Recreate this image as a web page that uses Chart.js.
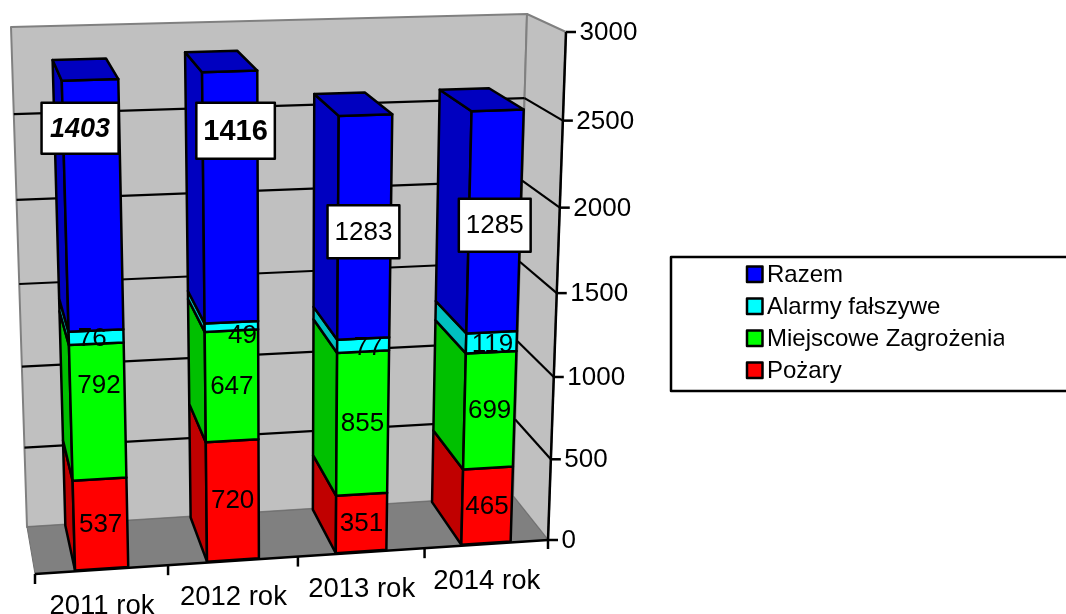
<!DOCTYPE html>
<html>
<head>
<meta charset="utf-8">
<title>Wyjazdy</title>
<script src="https://cdn.jsdelivr.net/npm/chart.js@4/dist/chart.umd.js"></script>
<style>
  html, body { margin: 0; padding: 0; background: #fff; overflow: hidden; }
  canvas { display: block; }
</style>
</head>
<body>
<canvas id="chart" width="1066" height="614"></canvas>
<script>
const categories = ['2011 rok', '2012 rok', '2013 rok', '2014 rok'];
const pozary = [537, 720, 351, 465];
const miejscowe = [792, 647, 855, 699];
const alarmy = [76, 49, 77, 119];
const razem = [1403, 1416, 1283, 1285];
const valueTicks = [0, 500, 1000, 1500, 2000, 2500, 3000];

// Corners of the 3D box on the page, the chart scales are projected into it
const box = {
  frontBottomLeft: [35, 574], frontBottomRight: [548, 540],
  frontTopLeft: [18, 47], frontTopRight: [566, 32],
  backBottomLeft: [27, 527], backBottomRight: [513, 496],
  backTopLeft: [11, 27], backTopRight: [527, 14]
};
const barFront = 0.02;
const barBack = 0.98;

const FONT = '"Liberation Sans", Arial, sans-serif';
const sideColors = ['#c00000', '#00c000', '#00c0c0', '#0000c0'];

// Labels that were dragged by hand in the original, 'dataset:index': [dx, dy]
const labelNudge = {
  '1:0': [1, -27], '2:0': [-4, 1], '2:1': [11, 8], '2:2': [5, 2], '2:3': [1, 2],
  '3:0': [-13, -77], '3:1': [5, -66], '3:2': [-1, 5], '3:3': [0, 4]
};

function lerp(a, b, t) {
  return [a[0] + (b[0] - a[0]) * t, a[1] + (b[1] - a[1]) * t];
}

/**
 * u along the categories, v up the values, w into the depth, all 0..1
 */
function project(u, v, w) {
  const pu = u + 0.05 * u * (1 - u);
  const pv = v - 0.056 * v * (1 - v);
  const front = lerp(
    lerp(box.frontBottomLeft, box.frontBottomRight, pu),
    lerp(box.frontTopLeft, box.frontTopRight, pu), pv);
  const back = lerp(
    lerp(box.backBottomLeft, box.backBottomRight, pu),
    lerp(box.backTopLeft, box.backTopRight, pu), pv);
  return lerp(front, back, w);
}

function fillPoly(ctx, points, fill, stroke, lineWidth) {
  ctx.beginPath();
  points.forEach((p, i) => i ? ctx.lineTo(p[0], p[1]) : ctx.moveTo(p[0], p[1]));
  ctx.closePath();
  if (fill) {
    ctx.fillStyle = fill;
    ctx.fill();
  }
  if (stroke) {
    ctx.strokeStyle = stroke;
    ctx.lineWidth = lineWidth;
    ctx.lineJoin = 'round';
    ctx.stroke();
  }
}

function drawLine(ctx, a, b, color, lineWidth) {
  ctx.beginPath();
  ctx.moveTo(a[0], a[1]);
  ctx.lineTo(b[0], b[1]);
  ctx.strokeStyle = color;
  ctx.lineWidth = lineWidth;
  ctx.stroke();
}

/**
 * Walls, floor, gridlines and both axis lines
 */
function drawFrame(chart) {
  const ctx = chart.ctx;
  const y = chart.scales.y;
  const range = y.bottom - y.top;

  // back wall and right wall
  fillPoly(ctx, [project(0, 0, 1), project(1, 0, 1), project(1, 1, 1), project(0, 1, 1)], '#c0c0c0', '#808080', 2);
  fillPoly(ctx, [project(1, 0, 1), project(1, 1, 1), project(1, 1, 0), project(1, 0, 0)], '#c0c0c0', '#808080', 2);
  fillPoly(ctx, [project(0, 0, 0), project(1, 0, 0), project(1, 0, 1), project(0, 0, 1)], '#808080', '#707070', 1);

  y.ticks.forEach(tick => {
    const v = (y.bottom - y.getPixelForValue(tick.value)) / range;
    if (tick.value > 0 && tick.value < 3000) {
      drawLine(ctx, project(0, v, 1), project(1, v, 1), '#000', 2.2);
      drawLine(ctx, project(1, v, 1), project(1, v, 0), '#000', 2.2);
    }
  });

  // axes in front
  drawLine(ctx, project(0, 0, 0), project(1, 0, 0), '#000', 2.5);
  drawLine(ctx, project(1, 0, 0), project(1, 1, 0), '#000', 2.5);
  y.ticks.forEach(tick => {
    const p = project(1, (y.bottom - y.getPixelForValue(tick.value)) / range, 0);
    drawLine(ctx, p, [p[0] + 10, p[1]], '#000', 2.5);
  });
  categories.forEach((c, i) => {
    const p = project(i / categories.length, 0, 0);
    drawLine(ctx, p, [p[0], p[1] + 10], '#000', 2.5);
  });
  const end = project(1, 0, 0);
  drawLine(ctx, end, [end[0], end[1] + 9], '#000', 2.5);
}

/**
 * Bars from the elements Chart.js laid out, pushed through the projection
 */
function drawBars(chart) {
  const ctx = chart.ctx;
  const area = chart.chartArea;
  categories.forEach((c, i) => {
    chart.data.datasets.forEach((ds, d) => {
      const bar = chart.getDatasetMeta(d).data[i].getProps(['x', 'y', 'base', 'width'], true);
      const u0 = (bar.x - bar.width / 2 - area.left) / area.width;
      const u1 = (bar.x + bar.width / 2 - area.left) / area.width;
      const v0 = (area.bottom - bar.base) / area.height;
      const v1 = (area.bottom - bar.y) / area.height;
      // left side
      fillPoly(ctx, [project(u0, v0, barFront), project(u0, v0, barBack), project(u0, v1, barBack), project(u0, v1, barFront)], sideColors[d], '#000', 2.5);
      // front
      fillPoly(ctx, [project(u0, v0, barFront), project(u1, v0, barFront), project(u1, v1, barFront), project(u0, v1, barFront)], ds.backgroundColor, '#000', 2.5);
      // top of the stack only
      if (d === chart.data.datasets.length - 1) {
        fillPoly(ctx, [project(u0, v1, barFront), project(u1, v1, barFront), project(u1, v1, barBack), project(u0, v1, barBack)], sideColors[d], '#000', 2.5);
      }
    });
  });
}

/**
 * Value labels, the Razem series sits in white boxes
 */
function drawValueLabels(chart) {
  const ctx = chart.ctx;
  const area = chart.chartArea;
  ctx.textAlign = 'center';
  ctx.textBaseline = 'middle';
  chart.data.datasets.forEach((ds, d) => {
    ds.data.forEach((value, i) => {
      const bar = chart.getDatasetMeta(d).data[i].getProps(['x', 'y', 'base'], true);
      const u = (bar.x - area.left) / area.width;
      const a = project(u, (area.bottom - bar.base) / area.height, barFront);
      const b = project(u, (area.bottom - bar.y) / area.height, barFront);
      const nudge = labelNudge[d + ':' + i] || [0, 0];
      const x = (a[0] + b[0]) / 2 + nudge[0];
      const y = (a[1] + b[1]) / 2 + nudge[1];
      let font = '26px ' + FONT;
      if (d === 3 && i === 0) font = 'italic bold 27px ' + FONT;
      if (d === 3 && i === 1) font = 'bold 29px ' + FONT;
      ctx.font = font;
      if (d === 3) {
        const w = ctx.measureText(String(value)).width + (i === 0 ? 17 : 14);
        const h = i === 1 ? 56 : (i === 0 ? 51 : 53);
        ctx.fillStyle = '#fff';
        ctx.fillRect(x - w / 2, y - h / 2, w, h);
        ctx.strokeStyle = '#000';
        ctx.lineWidth = 2.5;
        ctx.strokeRect(x - w / 2, y - h / 2, w, h);
      }
      ctx.fillStyle = '#000';
      ctx.fillText(String(value), x, y + 1);
    });
  });
}

const scene3d = {
  id: 'scene3d',
  afterLayout(chart) {
    // legend box sits apart from the plot
    const legend = chart.legend;
    const w = legend.right - legend.left;
    const h = legend.bottom - legend.top;
    legend.left = 746;
    legend.right = 746 + w;
    legend.top = 255;
    legend.bottom = 255 + h;
  },
  beforeDraw(chart) {
    drawFrame(chart);
    // tick labels stay with the scales but follow the projected axes
    const x = chart.scales.x;
    const y = chart.scales.y;
    y.getLabelItems().forEach((item, i) => {
      const p = project(1, (y.bottom - y.getPixelForValue(y.ticks[i].value)) / (y.bottom - y.top), 0);
      item.textOffset = 0;
      item.options.textAlign = 'left';
      item.options.textBaseline = 'middle';
      item.options.translation = [p[0] + 13.5, p[1] + 1];
    });
    x.getLabelItems().forEach((item, i) => {
      const p = project((x.getPixelForTick(i) - x.left) / (x.right - x.left), 0, 0);
      item.textOffset = 0;
      item.options.textAlign = 'center';
      item.options.textBaseline = 'middle';
      item.options.translation = [p[0], p[1] + 37];
    });
  },
  beforeDatasetDraw() {
    return false;
  },
  afterDatasetsDraw(chart) {
    drawBars(chart);
    drawValueLabels(chart);
  },
  afterDraw(chart) {
    const ctx = chart.ctx;
    ctx.strokeStyle = '#000';
    ctx.lineWidth = 2.5;
    ctx.strokeRect(671, 257, 420, 134);
    chart.legend.legendItems.forEach((item, i) => {
      const top = 266.5 + i * 32;
      ctx.fillStyle = chart.data.datasets[item.datasetIndex].backgroundColor;
      ctx.fillRect(747, top, 15.5, 15.5);
      ctx.strokeRect(747, top, 15.5, 15.5);
    });
  }
};

function initChart() {
  new Chart(document.getElementById('chart'), {
    type: 'bar',
    data: {
      labels: categories,
      datasets: [
        { label: 'Pożary', data: pozary, backgroundColor: '#ff0000' },
        { label: 'Miejscowe Zagrożenia', data: miejscowe, backgroundColor: '#00ff00' },
        { label: 'Alarmy fałszywe', data: alarmy, backgroundColor: '#00ffff' },
        { label: 'Razem', data: razem, backgroundColor: '#0000ff' }
      ]
    },
    options: {
      responsive: false,
      animation: false,
      layout: { padding: { top: 32, bottom: 73, left: 35 } },
      datasets: { bar: { categoryPercentage: 1, barPercentage: 0.4 } },
      scales: {
        x: {
          stacked: true,
          grid: { display: false },
          border: { display: false },
          ticks: {
            mirror: true,
            autoSkip: false,
            maxRotation: 0,
            color: '#000',
            font: { family: FONT, size: 27.5 }
          }
        },
        y: {
          stacked: true,
          position: 'right',
          min: 0,
          max: 3000,
          afterBuildTicks(scale) {
            scale.ticks = valueTicks.map(value => ({ value }));
          },
          grid: { display: false },
          border: { display: false },
          ticks: {
            mirror: true,
            color: '#000',
            font: { family: FONT, size: 26 },
            callback: value => String(value)
          }
        }
      },
      plugins: {
        tooltip: { enabled: false },
        legend: {
          position: 'right',
          align: 'start',
          reverse: true,
          labels: {
            boxWidth: 1,
            padding: 8,
            color: '#000',
            font: { family: FONT, size: 24 },
            // swatches are drawn in the plugin, closer to the text than the library allows
            generateLabels(chart) {
              return Chart.defaults.plugins.legend.labels.generateLabels(chart).map(item => {
                item.fillStyle = 'transparent';
                item.strokeStyle = 'transparent';
                item.lineWidth = 0;
                return item;
              });
            }
          }
        }
      }
    },
    plugins: [scene3d]
  });
}

document.addEventListener('DOMContentLoaded', initChart);
</script>
</body>
</html>
